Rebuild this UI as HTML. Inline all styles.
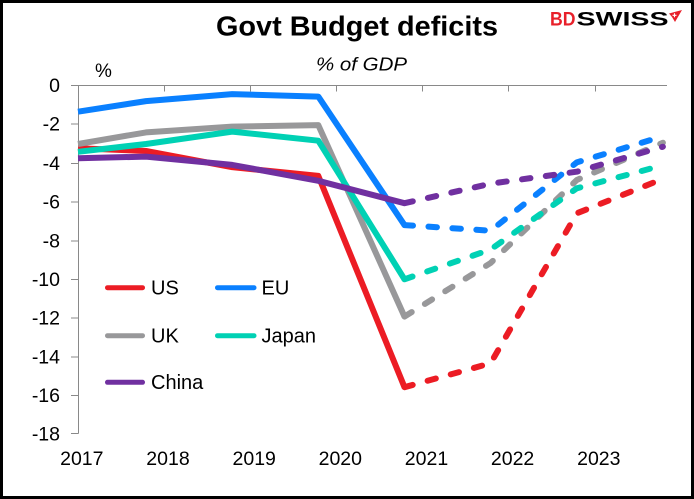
<!DOCTYPE html>
<html>
<head>
<meta charset="utf-8">
<style>
  html, body { margin:0; padding:0; background:#fff; }
  svg { display:block; }
  text { font-family: "Liberation Sans", Arial, sans-serif; fill:#000; }
</style>
</head>
<body>
<svg width="694" height="499" viewBox="0 0 694 499" xmlns="http://www.w3.org/2000/svg">
  <rect x="0" y="0" width="694" height="499" fill="#fff"/>
  <rect x="1.5" y="1.5" width="691" height="496" fill="none" stroke="#000" stroke-width="3"/>

  <!-- Title -->
  <text x="216" y="35.7" font-size="27.5" font-weight="bold" textLength="282" lengthAdjust="spacingAndGlyphs">Govt Budget deficits</text>
  <text x="316" y="70.7" font-size="18.5" font-style="italic" textLength="91" lengthAdjust="spacingAndGlyphs">% of GDP</text>
  <text x="95" y="77" font-size="19">%</text>

  <!-- Logo -->
  <text x="550" y="25.7" font-size="19.5" font-weight="bold" style="fill:#E8202A" textLength="25.5" lengthAdjust="spacingAndGlyphs">BD</text>
  <text x="576.5" y="25.7" font-size="19.5" font-weight="bold" textLength="92" lengthAdjust="spacingAndGlyphs">SWISS</text>
  <polygon points="669,13.5 682,10 675,22 672,17" fill="#E8202A"/>
  <path d="M674.5,13.3 v4 M672.5,15.3 h4" stroke="#fff" stroke-width="1.1"/>

  <!-- Axes -->
  <g stroke="#898989" stroke-width="1" fill="none" shape-rendering="crispEdges">
    <line x1="78.5" y1="85" x2="78.5" y2="433.5"/>
    <line x1="71" y1="85.5" x2="667" y2="85.5"/>
    <!-- y ticks -->
    <line x1="71" y1="124.2" x2="78.5" y2="124.2"/>
    <line x1="71" y1="163.4" x2="78.5" y2="163.4"/>
    <line x1="71" y1="202.1" x2="78.5" y2="202.1"/>
    <line x1="71" y1="240.8" x2="78.5" y2="240.8"/>
    <line x1="71" y1="279.5" x2="78.5" y2="279.5"/>
    <line x1="71" y1="318.1" x2="78.5" y2="318.1"/>
    <line x1="71" y1="356.8" x2="78.5" y2="356.8"/>
    <line x1="71" y1="395.5" x2="78.5" y2="395.5"/>
    <line x1="71" y1="433.5" x2="78.5" y2="433.5"/>
    <!-- x ticks -->
    <line x1="164.5" y1="85.5" x2="164.5" y2="91.5"/>
    <line x1="250.5" y1="85.5" x2="250.5" y2="91.5"/>
    <line x1="336.5" y1="85.5" x2="336.5" y2="91.5"/>
    <line x1="422.5" y1="85.5" x2="422.5" y2="91.5"/>
    <line x1="508.5" y1="85.5" x2="508.5" y2="91.5"/>
    <line x1="595.5" y1="85.5" x2="595.5" y2="91.5"/>
  </g>

  <!-- Y labels -->
  <g font-size="19.5" text-anchor="end">
    <text x="60" y="91.8">0</text>
    <text x="60" y="130.5">-2</text>
    <text x="60" y="169.9">-4</text>
    <text x="60" y="208.6">-6</text>
    <text x="60" y="247.3">-8</text>
    <text x="60" y="286">-10</text>
    <text x="60" y="324.7">-12</text>
    <text x="60" y="363.4">-14</text>
    <text x="60" y="402">-16</text>
    <text x="60" y="440.3">-18</text>
  </g>

  <!-- X labels -->
  <g font-size="19.5" text-anchor="middle">
    <text x="81.8" y="465">2017</text>
    <text x="168" y="465">2018</text>
    <text x="254.2" y="465">2019</text>
    <text x="340.3" y="465">2020</text>
    <text x="426.5" y="465">2021</text>
    <text x="512.6" y="465">2022</text>
    <text x="598.8" y="465">2023</text>
  </g>

  <!-- Series -->
  <g fill="none" stroke-width="6" stroke-linejoin="round">
    <!-- US -->
    <polyline stroke="#EC1C24" points="78,148.3 146,151 232.2,167.2 318.3,175.9 404.5,387.2"/>
    <polyline stroke="#EC1C24" stroke-linecap="round" stroke-dasharray="8.5 15.5" points="404.5,387.2 490.6,363.3 576.8,213.3 662.9,178.8"/>
    <!-- EU -->
    <polyline stroke="#0A80FF" points="78,111.7 146,101.1 232.2,94.1 318.3,96.6 404.5,225.1"/>
    <polyline stroke="#0A80FF" stroke-linecap="round" stroke-dasharray="8.5 15.5" points="404.5,225.1 490.6,230.7 576.8,162.4 662.9,136.3"/>
    <!-- UK -->
    <polyline stroke="#98989A" points="78,144 146,132.4 232.2,126.6 318.3,125.1 404.5,316.6"/>
    <polyline stroke="#98989A" stroke-linecap="round" stroke-dasharray="8.5 15.5" points="404.5,316.6 490.6,263 576.8,180 662.9,142.7"/>
    <!-- Japan -->
    <polyline stroke="#00D1B4" points="78,151.8 146,144 232.2,131.6 318.3,140.7 404.5,279.3"/>
    <polyline stroke="#00D1B4" stroke-linecap="round" stroke-dasharray="8.5 15.5" points="404.5,279.3 490.6,249.5 576.8,188.3 662.9,165.3"/>
    <!-- China -->
    <polyline stroke="#7030A0" points="78,158.3 146,156.6 232.2,164.9 318.3,180.8 404.5,203.2"/>
    <polyline stroke="#7030A0" stroke-linecap="round" stroke-dasharray="8.5 15.5" points="404.5,203.2 490.6,183.7 576.8,171.7 662.9,146.7"/>
  </g>

  <!-- Legend -->
  <g stroke-width="5" stroke-linecap="round">
    <line x1="107.5" y1="287.7" x2="142.5" y2="287.7" stroke="#EC1C24"/>
    <line x1="217.5" y1="287.7" x2="254" y2="287.7" stroke="#0A80FF"/>
    <line x1="107.5" y1="335.7" x2="142.5" y2="335.7" stroke="#98989A"/>
    <line x1="217.5" y1="335.7" x2="254" y2="335.7" stroke="#00D1B4"/>
    <line x1="107.5" y1="382.3" x2="142.5" y2="382.3" stroke="#7030A0"/>
  </g>
  <g font-size="20">
    <text x="151" y="294.3">US</text>
    <text x="261.5" y="294.3">EU</text>
    <text x="151" y="342.3">UK</text>
    <text x="261.5" y="342.3">Japan</text>
    <text x="151" y="389">China</text>
  </g>
</svg>
</body>
</html>
